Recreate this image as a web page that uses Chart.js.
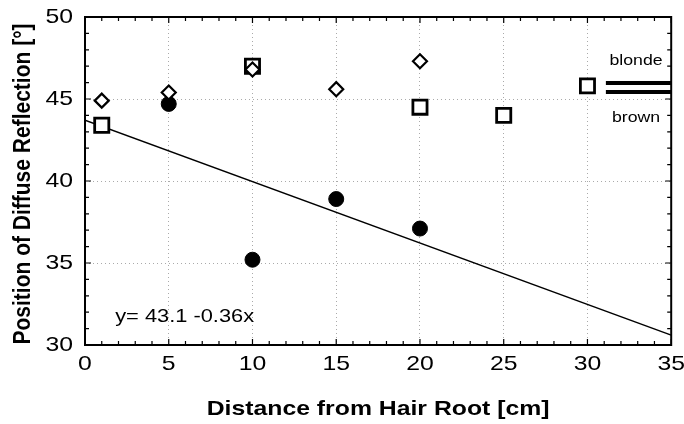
<!DOCTYPE html>
<html>
<head>
<meta charset="utf-8">
<script src="https://cdn.jsdelivr.net/npm/chart.js@4"></script>
<style>
  html, body { margin: 0; padding: 0; background: #fff; }
  #wrap { width: 684px; height: 424px; }
</style>
</head>
<body>
<div id="wrap"><canvas id="hairChart"></canvas></div>
<script>
// open diamonds
const diamondX = [1, 5, 10, 15, 20];
const diamondY = [44.9, 45.4, 46.8, 45.6, 47.3];
// open squares
const squareX = [1, 10, 20, 25, 30];
const squareY = [43.4, 47.0, 44.5, 44.0, 45.8];
// filled circles
const circleX = [5, 10, 15, 20];
const circleY = [44.7, 35.2, 38.9, 37.1];
// regression line
const fitX = [0, 35];
const fitY = [43.7, 30.6];

const xTicks = [0, 5, 10, 15, 20, 25, 30, 35];
const yTicks = [30, 35, 40, 45, 50];

const xTitle = 'Distance from Hair Root [cm]';
const yTitle = 'Position of Diffuse Reflection [°]';
const fitText = 'y= 43.1 -0.36x';

const FONT = 'Liberation Sans, Arial, Helvetica, sans-serif';
const SX = 1.18; // the scanned original is a bit wide

function pts(xs, ys) {
  return xs.map((x, i) => ({ x: x, y: ys[i] }));
}

function wideText(ctx, text, x, y, align) {
  ctx.save();
  ctx.translate(x, y);
  ctx.scale(SX, 1);
  ctx.textAlign = align;
  ctx.fillText(text, 0, 0);
  ctx.restore();
}

// frame, inside ticks, labels, legend marks and equation text
const extras = {
  id: 'extras',
  afterDatasetsDraw(chart) {
    const ctx = chart.ctx;
    const a = chart.chartArea;
    const xs = chart.scales.x, ys = chart.scales.y;
    ctx.save();
    ctx.strokeStyle = '#000';
    ctx.lineWidth = 2;
    ctx.strokeRect(a.left, a.top, a.right - a.left, a.bottom - a.top);

    ctx.lineWidth = 1.2;
    ctx.beginPath();
    for (let v = 0; v <= 35; v++) {
      const px = xs.getPixelForValue(v);
      const len = v % 5 === 0 ? 6 : 4;
      ctx.moveTo(px, a.bottom); ctx.lineTo(px, a.bottom - len);
      ctx.moveTo(px, a.top); ctx.lineTo(px, a.top + len);
    }
    for (let v = 30; v <= 50; v++) {
      const py = ys.getPixelForValue(v);
      const len = v % 5 === 0 ? 6 : 4;
      ctx.moveTo(a.left, py); ctx.lineTo(a.left + len, py);
      ctx.moveTo(a.right, py); ctx.lineTo(a.right - len, py);
    }
    ctx.stroke();

    // legend marks
    ctx.lineWidth = 4;
    ctx.beginPath();
    ctx.moveTo(xs.getPixelForValue(31.1), ys.getPixelForValue(45.98));
    ctx.lineTo(a.right, ys.getPixelForValue(45.98));
    ctx.moveTo(xs.getPixelForValue(31.1), ys.getPixelForValue(45.43));
    ctx.lineTo(a.right, ys.getPixelForValue(45.43));
    ctx.stroke();

    ctx.fillStyle = '#000';
    ctx.textBaseline = 'middle';
    ctx.font = '15px ' + FONT;
    wideText(ctx, 'blonde', xs.getPixelForValue(32.9), ys.getPixelForValue(47.3), 'center');
    wideText(ctx, 'brown', xs.getPixelForValue(32.9), ys.getPixelForValue(43.85), 'center');

    ctx.font = '18.5px ' + FONT;
    wideText(ctx, fitText, xs.getPixelForValue(1.8), ys.getPixelForValue(31.7), 'left');

    // tick labels
    ctx.font = '21px ' + FONT;
    xTicks.forEach(v => wideText(ctx, String(v), xs.getPixelForValue(v), a.bottom + 19, 'center'));
    yTicks.forEach(v => wideText(ctx, String(v), a.left - 12, ys.getPixelForValue(v), 'right'));

    // axis titles
    ctx.font = 'bold 21px ' + FONT;
    wideText(ctx, xTitle, (a.left + a.right) / 2, a.bottom + 64, 'center');
    ctx.save();
    ctx.translate(23, (a.top + a.bottom) / 2 + 3);
    ctx.scale(SX, 1);
    ctx.rotate(-Math.PI / 2);
    ctx.textAlign = 'center';
    ctx.fillText(yTitle, 0, 0);
    ctx.restore();

    ctx.restore();
  }
};

const ctx = document.getElementById('hairChart').getContext('2d');
const myChart = new Chart(ctx, {
  type: 'scatter',
  data: {
    datasets: [
      {
        label: 'diamond',
        data: pts(diamondX, diamondY),
        pointStyle: 'rectRot',
        pointRadius: 7,
        pointBackgroundColor: '#fff',
        pointBorderColor: '#000',
        pointBorderWidth: 2.2,
        order: 0
      },
      {
        label: 'square',
        data: pts(squareX, squareY),
        pointStyle: 'rect',
        pointRadius: 10,
        pointBackgroundColor: '#fff',
        pointBorderColor: '#000',
        pointBorderWidth: 2.8,
        order: 1
      },
      {
        label: 'circle',
        data: pts(circleX, circleY),
        pointStyle: 'circle',
        pointRadius: 7.5,
        pointBackgroundColor: '#000',
        pointBorderColor: '#000',
        pointBorderWidth: 1,
        order: 2
      },
      {
        type: 'line',
        label: 'fit',
        data: pts(fitX, fitY),
        borderColor: '#000',
        borderWidth: 1.5,
        pointRadius: 0,
        fill: false,
        order: 3
      }
    ]
  },
  options: {
    responsive: true,
    maintainAspectRatio: false,
    animation: false,
    layout: { padding: { top: 17, right: 11, left: 4, bottom: 0 } },
    plugins: {
      legend: { display: false },
      tooltip: { enabled: false }
    },
    scales: {
      x: {
        type: 'linear',
        min: 0, max: 35,
        afterBuildTicks: s => { s.ticks = xTicks.map(v => ({ value: v })); },
        afterFit: s => { s.height = 79; },
        ticks: { display: false },
        grid: { color: '#aaa', lineWidth: 1, drawTicks: false, tickLength: 0 },
        border: { display: false, dash: [1, 3] },
        title: { display: false }
      },
      y: {
        type: 'linear',
        min: 30, max: 50,
        afterBuildTicks: s => { s.ticks = yTicks.map(v => ({ value: v })); },
        afterFit: s => { s.width = 81; },
        ticks: { display: false },
        grid: { color: '#aaa', lineWidth: 1, drawTicks: false, tickLength: 0 },
        border: { display: false, dash: [1, 3] },
        title: { display: false }
      }
    }
  },
  plugins: [extras]
});
</script>
</body>
</html>
